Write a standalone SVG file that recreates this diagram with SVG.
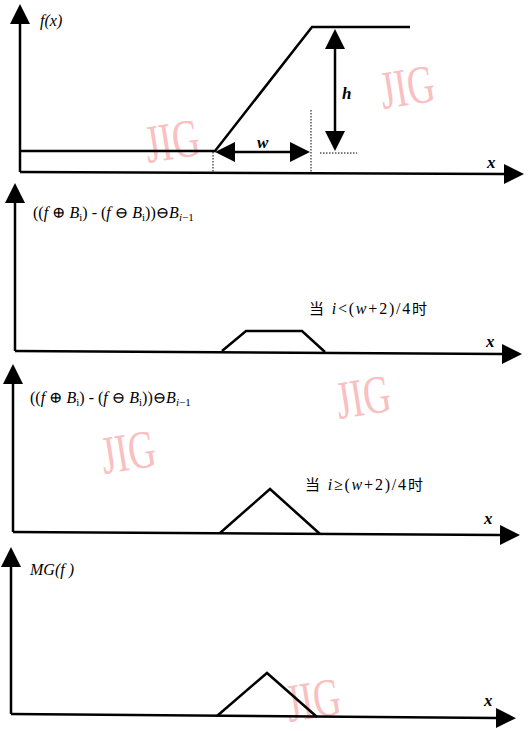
<svg xmlns="http://www.w3.org/2000/svg" width="528" height="731" viewBox="0 0 528 731">
<style>
.ax{stroke:#000;stroke-width:2.5;fill:none}
.cv{stroke:#000;stroke-width:2.5;fill:none;stroke-linejoin:miter}
.dot{stroke:#000;stroke-width:1;stroke-dasharray:1.5 1.5;fill:none}
.t{font-family:'Liberation Serif','DejaVu Serif',serif;font-size:16px;fill:#000}
.it{font-style:italic}
.bi{font-style:italic;font-weight:bold;font-size:17px}
.sm{font-size:11px}
.cjk{font-family:'Noto Sans CJK SC',sans-serif;font-size:15px}
.cond{letter-spacing:1.8px}
.wm{font-family:'Liberation Serif','DejaVu Serif',serif;font-size:54px;fill:#f8c0c0}
</style>
<defs>
<marker id="ah" markerUnits="userSpaceOnUse" markerWidth="20" markerHeight="20" refX="0" refY="10" orient="auto-start-reverse" viewBox="0 0 20 20">
<path d="M0,0 L20,10 L0,20 z" fill="#000"/>
</marker>
</defs>
<rect width="528" height="731" fill="#fff"/>

<g id="watermarks">
<text class="wm" transform="translate(148,163) rotate(-9) scale(0.7,1)">JIG</text>
<text class="wm" transform="translate(383,109) rotate(-9) scale(0.7,1)">JIG</text>
<text class="wm" transform="translate(339,419) rotate(-9) scale(0.7,1)">JIG</text>
<text class="wm" transform="translate(104,474) rotate(-9) scale(0.7,1)">JIG</text>
<text class="wm" transform="translate(289,722) rotate(-9) scale(0.7,1)">JIG</text>
</g>

<g id="panel1">
<line class="ax" x1="20" y1="172" x2="20" y2="24" marker-end="url(#ah)"/>
<line class="ax" x1="20" y1="172" x2="504" y2="174" marker-end="url(#ah)"/>
<polyline class="cv" points="20,151 215,151 312,27 410,27"/>
<line class="dot" x1="213" y1="152" x2="213" y2="172"/>
<line class="dot" x1="311" y1="110" x2="311" y2="173"/>
<line class="dot" x1="320" y1="153" x2="357" y2="153"/>
<line class="ax" x1="335" y1="49" x2="335" y2="131" marker-start="url(#ah)" marker-end="url(#ah)"/>
<line class="ax" x1="235" y1="152" x2="290" y2="152" marker-start="url(#ah)" marker-end="url(#ah)"/>
<text class="t it" x="40" y="26" font-size="17">f(x)</text>
<text class="t bi" x="342" y="99">h</text>
<text class="t bi" x="257" y="148">w</text>
<text class="t bi" x="487" y="168">x</text>
</g>

<g id="panel2">
<line class="ax" x1="15" y1="351" x2="15" y2="203" marker-end="url(#ah)"/>
<line class="ax" x1="15" y1="351" x2="502" y2="354" marker-end="url(#ah)"/>
<polyline class="cv" points="222,351 246,331 302,331 325,352"/>
<text class="t" x="33" y="218">((<tspan class="it">f</tspan> ⊕ <tspan class="it">B</tspan><tspan class="sm" dy="3">i</tspan><tspan dy="-3">) - (</tspan><tspan class="it">f</tspan> ⊖ <tspan class="it">B</tspan><tspan class="sm" dy="3">i</tspan><tspan dy="-3">))⊖</tspan><tspan class="it">B</tspan><tspan class="sm" dy="3"><tspan class="it">i</tspan>−1</tspan></text>
<text class="t cond" x="309" y="314"><tspan class="cjk">当</tspan> <tspan class="it">i</tspan>&lt;(<tspan class="it">w</tspan>+2)/4<tspan class="cjk">时</tspan></text>
<text class="t bi" x="486" y="347">x</text>
</g>

<g id="panel3">
<line class="ax" x1="13" y1="532" x2="13" y2="384" marker-end="url(#ah)"/>
<line class="ax" x1="13" y1="532" x2="500" y2="535" marker-end="url(#ah)"/>
<polyline class="cv" points="220,533 270,489 320,534"/>
<text class="t" x="30" y="403">((<tspan class="it">f</tspan> ⊕ <tspan class="it">B</tspan><tspan class="sm" dy="3">i</tspan><tspan dy="-3">) - (</tspan><tspan class="it">f</tspan> ⊖ <tspan class="it">B</tspan><tspan class="sm" dy="3">i</tspan><tspan dy="-3">))⊖</tspan><tspan class="it">B</tspan><tspan class="sm" dy="3"><tspan class="it">i</tspan>−1</tspan></text>
<text class="t cond" x="305" y="490"><tspan class="cjk">当</tspan> <tspan class="it">i</tspan>≥(<tspan class="it">w</tspan>+2)/4<tspan class="cjk">时</tspan></text>
<text class="t bi" x="484" y="524">x</text>
</g>

<g id="panel4">
<line class="ax" x1="11" y1="714" x2="11" y2="567" marker-end="url(#ah)"/>
<line class="ax" x1="11" y1="714" x2="496" y2="718" marker-end="url(#ah)"/>
<polyline class="cv" points="217,716 267,673 317,717"/>
<text class="t it" x="30" y="575" font-size="17">MG(f )</text>
<text class="t bi" x="484" y="706">x</text>
</g>
</svg>
